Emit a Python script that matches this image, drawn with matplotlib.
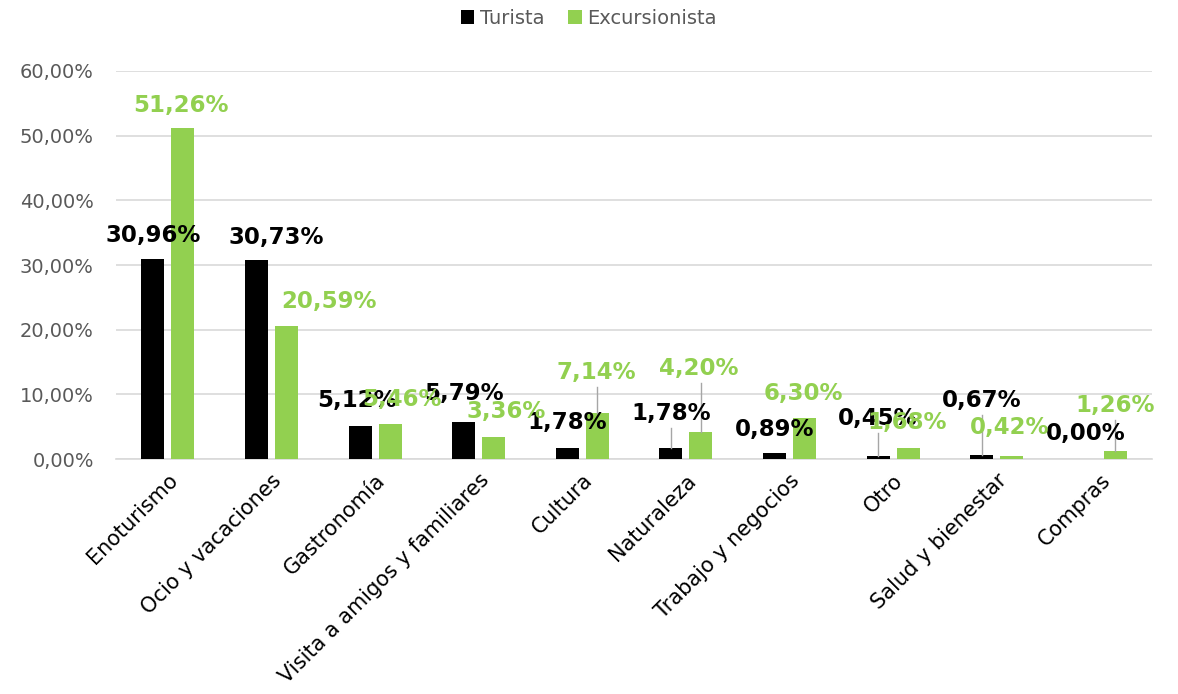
import matplotlib.pyplot as plt
import numpy as np
from matplotlib.ticker import FuncFormatter, MultipleLocator

# Motivo del viaje por tipo de visitante
categorias = ['Enoturismo', 'Ocio y vacaciones', 'Gastronomía',
              'Visita a amigos y familiares', 'Cultura', 'Naturaleza',
              'Trabajo y negocios', 'Otro', 'Salud y bienestar', 'Compras']
turista = [30.96, 30.73, 5.12, 5.79, 1.78, 1.78, 0.89, 0.45, 0.67, 0.00]
excursionista = [51.26, 20.59, 5.46, 3.36, 7.14, 4.20, 6.30, 1.68, 0.42, 1.26]

# Posición de las etiquetas (desplazamiento x respecto a la barra, altura y)
etq_tur_dx = [0.0, 0.19, -0.03, 0.0, 0.0, 0.0, 0.0, 0.0, 0.0, 0.0]
etq_tur_y = [34.6, 34.3, 9.1, 10.2, 5.7, 7.1, 4.5, 6.3, 9.1, 4.0]
etq_exc_dx = [-0.02, 0.41, 0.11, 0.12, -0.01, -0.02, -0.01, -0.01, -0.02, 0.0]
etq_exc_y = [54.7, 24.4, 9.2, 7.3, 13.4, 14.06, 10.2, 5.6, 4.9, 8.3]
guia_tur = [5, 7, 8]
guia_exc = [4, 5, 9]

NEGRO = '#000000'
VERDE = '#92D050'
GRIS = '#595959'

def pct(v, pos=None):
    return f'{v:.2f}'.replace('.', ',') + '%'

fig = plt.figure(figsize=(11.78, 6.94), dpi=100)
ax = fig.add_axes([0.0985, 0.3386, 0.8795, 0.5591])

x = np.arange(len(categorias))
off = 0.145
ancho = 0.222
ax.bar(x - off, turista, ancho, color=NEGRO, label='Turista', zorder=3)
ax.bar(x + off, excursionista, ancho, color=VERDE, label='Excursionista', zorder=3)

ax.set_xlim(-0.5, len(categorias) - 0.5)
ax.set_ylim(0, 60)
ax.yaxis.set_major_locator(MultipleLocator(10))
ax.yaxis.set_major_formatter(FuncFormatter(pct))
ax.grid(axis='y', color='#d9d9d9', linewidth=1.2, zorder=0)
for s in ['top', 'right', 'left']:
    ax.spines[s].set_visible(False)
ax.spines['bottom'].set_color('#d9d9d9')
ax.spines['bottom'].set_linewidth(1.2)
ax.tick_params(axis='both', length=0)
ax.tick_params(axis='y', labelsize=14, labelcolor=GRIS, pad=16)
ax.set_xticks(x)
ax.set_xticklabels(categorias, rotation=45, ha='right', rotation_mode='anchor',
                   fontsize=15)
ax.tick_params(axis='x', pad=8)

# Líneas guía de las etiquetas alejadas
for i in guia_tur:
    ax.plot([x[i] - off] * 2, [turista[i], etq_tur_y[i] - 2.3],
            color='#a6a6a6', linewidth=1, zorder=4)
for i in guia_exc:
    ax.plot([x[i] + off] * 2, [excursionista[i], etq_exc_y[i] - 2.3],
            color='#a6a6a6', linewidth=1, zorder=4)

# Etiquetas de valor
for i in range(len(categorias)):
    ax.text(x[i] - off + etq_tur_dx[i], etq_tur_y[i], pct(turista[i]),
            ha='center', va='center', fontsize=16.5, fontweight='bold',
            color=NEGRO, zorder=5)
for i in range(len(categorias)):
    ax.text(x[i] + off + etq_exc_dx[i], etq_exc_y[i], pct(excursionista[i]),
            ha='center', va='center', fontsize=16.5, fontweight='bold',
            color=VERDE, zorder=6)

fig.legend(loc='center', bbox_to_anchor=(0.5, 0.974), ncol=2, frameon=False,
           handlelength=0.7, handleheight=0.7, handletextpad=0.3,
           columnspacing=1.2, labelcolor=GRIS,
           prop={'family': ['Liberation Sans Narrow', 'DejaVu Sans'], 'size': 14})

fig.savefig('out.png', dpi=100)
